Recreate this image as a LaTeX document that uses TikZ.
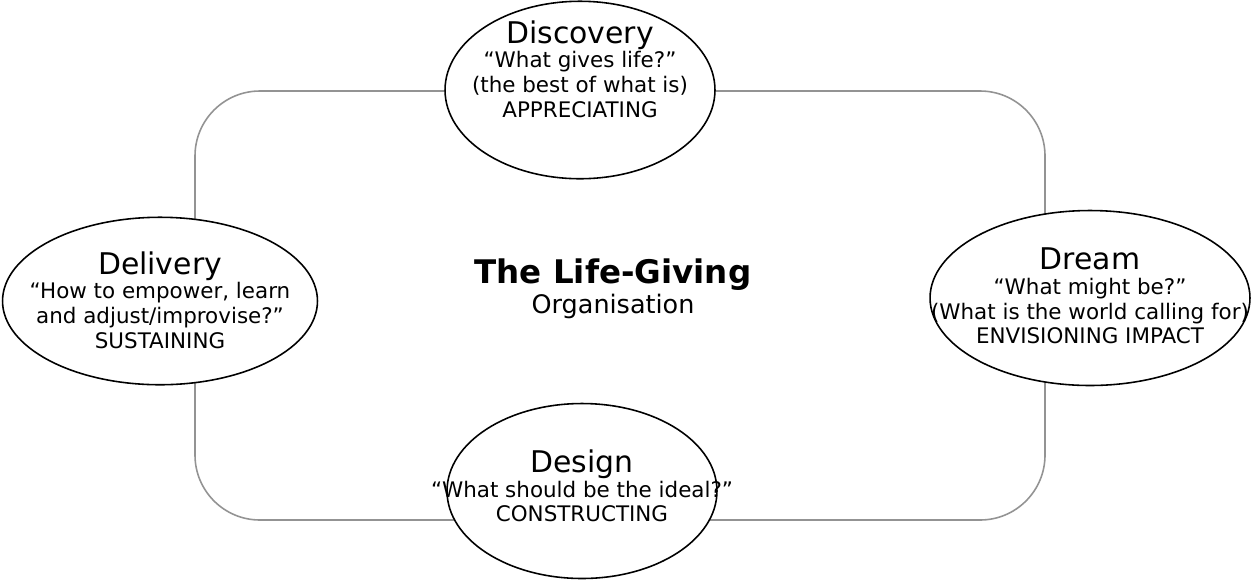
\documentclass[tikz,border=0pt]{standalone}
\usepackage{fontspec}
\setmainfont{DejaVu Sans}
\usepackage{tikz}
\usetikzlibrary{shapes.geometric}
\newcommand{\headsz}{\fontsize{17}{19}\selectfont}

\begin{document}
\begin{tikzpicture}[x=0.02cm,y=-0.02cm]
        \tikzset{phase/.style={draw=black, line width=0.9pt, fill=white, shape=ellipse, inner sep=0pt},
        ptext/.style={align=center, font=\fontsize{12.2}{14.1}\selectfont},
        loop/.style={draw=gray!85, line width=0.9pt, rounded corners=1.3cm},
        }
        \useasboundingbox (0,0) rectangle (1253,579);

%%% cycle
        \path[loop] (195,91) rectangle (1045,520);

%%% phases
        \node [phase, minimum width=5.4cm, minimum height=3.55cm] (disc) at (580,90) {};
        \node [ptext] (disc_txt) at (580,69) {{\headsz Discovery}\\``What gives life?''\\(the best of what is)\\APPRECIATING};

        \node [phase, minimum width=6.4cm, minimum height=3.5cm] (dream) at (1090,298) {};
        \node [ptext] (dream_txt) at (1090,296) {{\headsz Dream}\\``What might be?''\\(What is the world calling for)\\ENVISIONING IMPACT};

        \node [phase, minimum width=6.3cm, minimum height=3.35cm] (deliv) at (160,301) {};
        \node [ptext] (deliv_txt) at (160,300) {{\headsz Delivery}\\``How to empower, learn\\and adjust/improvise?''\\SUSTAINING};

        \node [phase, minimum width=5.4cm, minimum height=3.5cm] (design) at (582,491) {};
        \node [ptext] (design_txt) at (582,486) {{\headsz Design}\\``What should be the ideal?''\\CONSTRUCTING};

%%% centre
        \node [align=center, font=\fontsize{14.5}{17}\selectfont] (org) at (613,289) {{\fontsize{18.5}{21}\selectfont\bfseries The Life-Giving}\\Organisation};
\end{tikzpicture}
\end{document}
